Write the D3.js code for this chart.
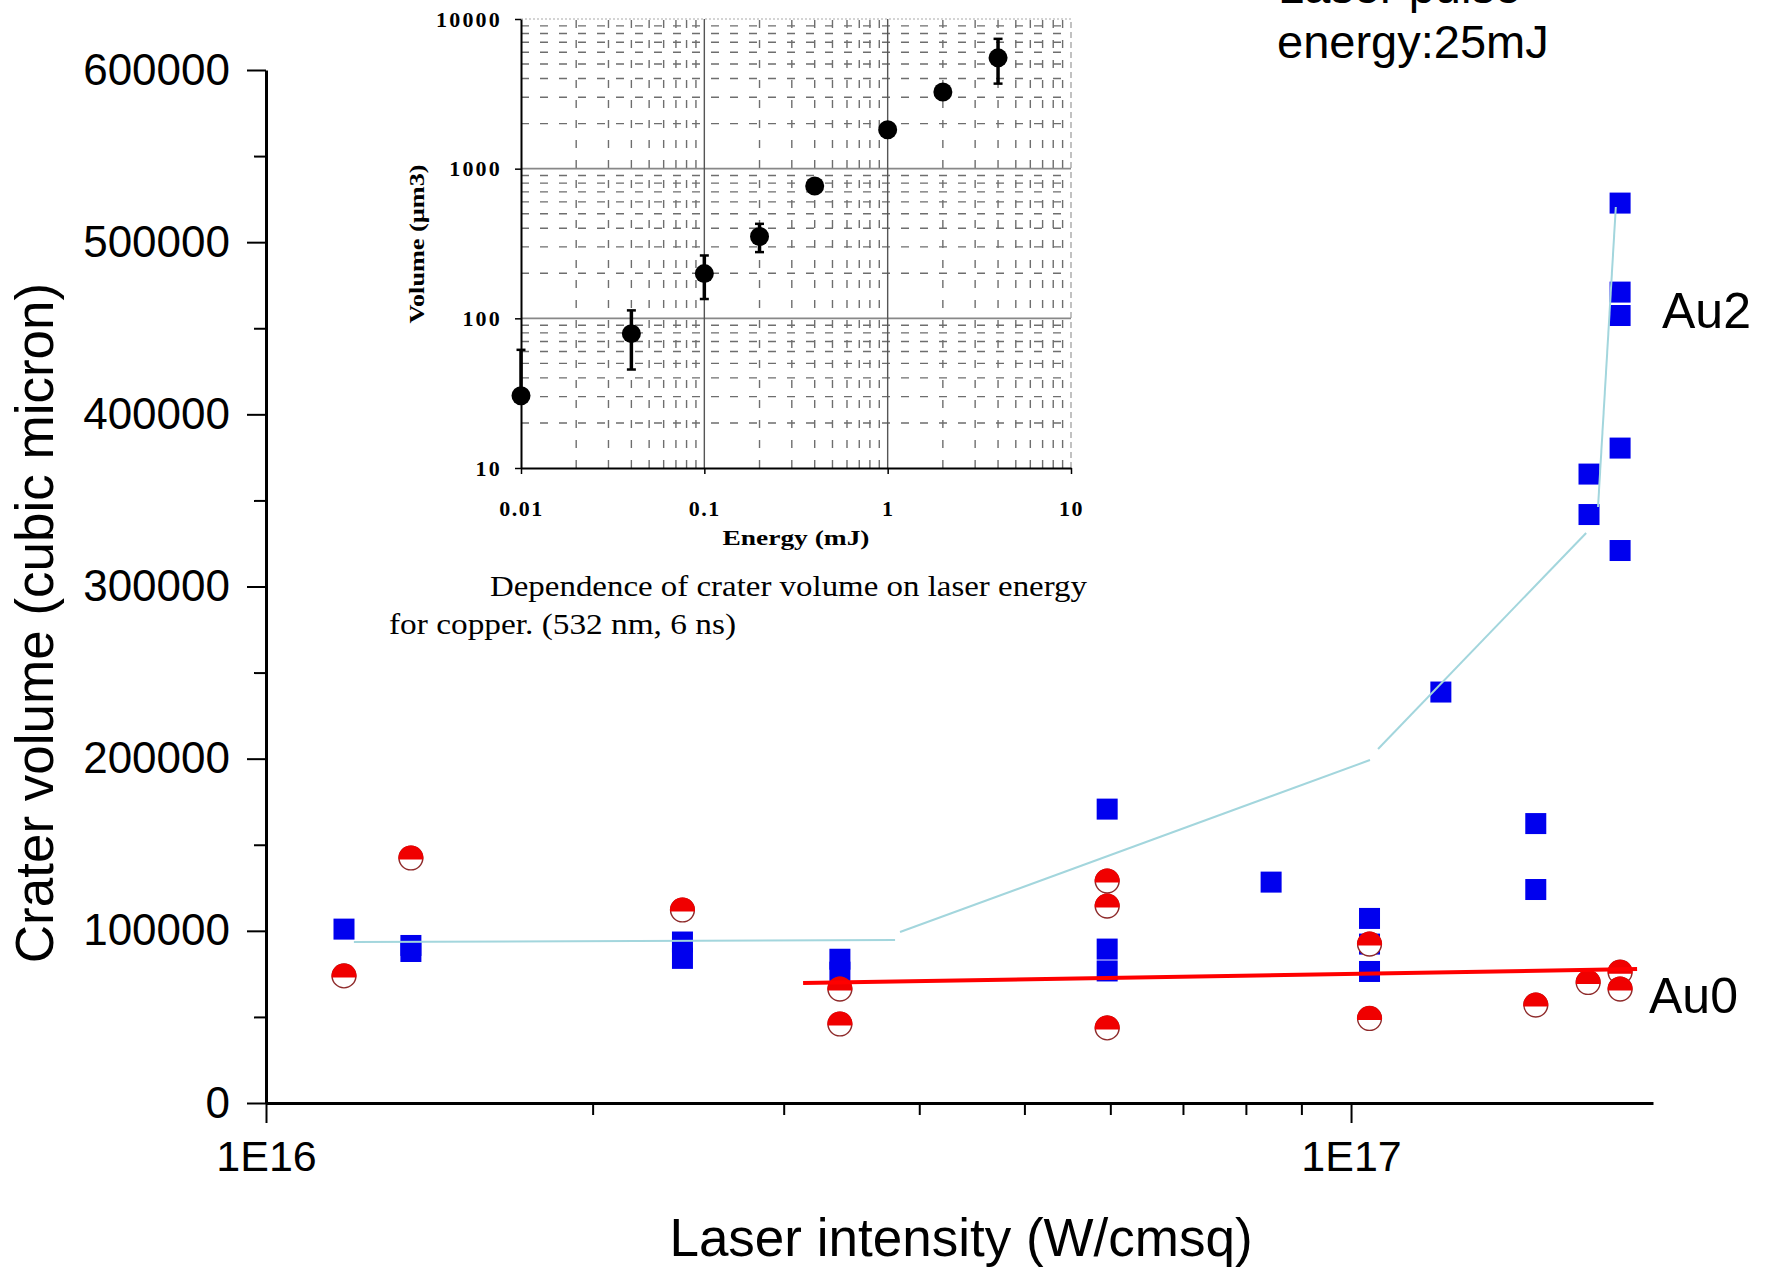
<!DOCTYPE html>
<html>
<head>
<meta charset="utf-8">
<script src="https://cdn.jsdelivr.net/npm/d3@7"></script>
<style>
  html, body { margin: 0; padding: 0; background: #fff; }
  svg { display: block; }
  .main text { font-family: "Liberation Sans", Arial, sans-serif; fill: #000; }
  .inset text { font-family: "Liberation Serif", "Times New Roman", serif; fill: #000; }
</style>
</head>
<body>
<svg id="chart" width="1768" height="1268"></svg>
<script>
// ---- main chart: crater volume vs laser intensity ----
// Au2 (blue squares)
const au2Intensity = [1.18e16, 1.36e16, 1.36e16, 2.42e16, 2.42e16, 3.38e16, 3.38e16,
  5.96e16, 5.96e16, 5.96e16, 8.44e16, 1.04e17, 1.04e17, 1.04e17, 1.21e17,
  1.48e17, 1.48e17, 1.657e17, 1.657e17, 1.77e17, 1.77e17, 1.77e17, 1.77e17, 1.77e17];
const au2Volume = [101000, 91500, 88000, 93500, 84000, 83500, 76000,
  170700, 89400, 76700, 128300, 107200, 92300, 76400, 238700,
  162300, 124000, 365300, 341800, 522700, 471000, 457400, 380400, 320900];

// Au0 (red half-filled circles)
const au0Intensity = [1.18e16, 1.36e16, 2.42e16, 3.38e16, 3.38e16, 5.96e16, 5.96e16, 5.96e16,
  1.04e17, 1.04e17, 1.48e17, 1.654e17, 1.77e17, 1.77e17];
const au0Volume = [73800, 142300, 112100, 66200, 45900, 128900, 114400, 43600,
  92300, 49100, 56900, 70000, 76000, 66200];

// trend lines
const au2Fit = [
  [[1.205e16, 93500], [3.80e16, 94700]],
  [[3.84e16, 99300], [1.041e17, 199200]],
  [[1.059e17, 205600], [1.647e17, 331100]],
  [[1.689e17, 346200], [1.754e17, 520400]]
];
const au0Fit = [[3.126e16, 69700], [1.835e17, 77800]];

const yMajor = [0, 100000, 200000, 300000, 400000, 500000, 600000];
const yMinor = [50000, 150000, 250000, 350000, 450000, 550000];
const xMajor = [1e16, 1e17];
const xMinor = [2e16, 3e16, 4e16, 5e16, 6e16, 7e16, 8e16, 9e16];
const xTickLabels = ["1E16", "1E17"];

// ---- inset: crater volume vs laser energy (copper) ----
const insetEnergy = [0.01, 0.04, 0.1, 0.2, 0.4, 1, 2, 4];
const insetVolume = [30.4, 79, 199, 352, 767, 1822, 3250, 5500];
const insetErrHi = [61.6, 113, 263, 428, null, null, null, 7370];
const insetErrLo = [30.4, 45.5, 134.6, 277, null, null, null, 3700];
const insetXTicks = [0.01, 0.1, 1, 10];
const insetXLabels = ["0.01", "0.1", "1", "10"];
const insetYTicks = [10, 100, 1000, 10000];

const svg = d3.select("#chart");
const main = svg.append("g").attr("class", "main");

const x = d3.scaleLog().domain([1e16, 1.898e17]).range([266, 1653]);
const y = d3.scaleLinear().domain([0, 600000]).range([1103, 70]);

// y axis
const yAxis = main.append("g").attr("transform", "translate(266,0)")
  .call(d3.axisLeft(y).tickValues(yMajor).tickSize(19).tickPadding(17)
    .tickSizeOuter(0).tickFormat(d3.format("d")));
yAxis.select(".domain").attr("stroke-width", 3);
yAxis.selectAll(".tick line").attr("stroke-width", 2);
yAxis.selectAll(".tick text").attr("font-size", 44).attr("font-family", null);

main.append("g").attr("transform", "translate(266,0)")
  .call(d3.axisLeft(y).tickValues(yMinor).tickSize(12).tickFormat(""))
  .call(g => g.select(".domain").remove())
  .selectAll(".tick line").attr("stroke-width", 2);

// x axis
const xAxis = main.append("g").attr("transform", "translate(0,1103)")
  .call(d3.axisBottom(x).tickValues(xMajor).tickSize(20).tickPadding(17)
    .tickSizeOuter(0).tickFormat((d, i) => xTickLabels[i]));
xAxis.select(".domain").attr("stroke-width", 3);
xAxis.selectAll(".tick line").attr("stroke-width", 2);
xAxis.selectAll(".tick text").attr("font-size", 43).attr("font-family", null);

main.append("g").attr("transform", "translate(0,1103)")
  .call(d3.axisBottom(x).tickValues(xMinor).tickSize(12).tickFormat(""))
  .call(g => g.select(".domain").remove())
  .selectAll(".tick line").attr("stroke-width", 2);

// axis titles
main.append("text")
  .attr("transform", "translate(34,623) rotate(-90)")
  .attr("text-anchor", "middle").attr("dominant-baseline", "central")
  .attr("font-size", 53)
  .text("Crater volume (cubic micron)");

main.append("text")
  .attr("x", 961).attr("y", 1256)
  .attr("text-anchor", "middle").attr("font-size", 53)
  .text("Laser intensity (W/cmsq)");

// blue squares
const sq = 21;
main.append("g").selectAll("rect")
  .data(au2Intensity)
  .join("rect")
  .attr("x", d => x(d) - sq / 2)
  .attr("y", (d, i) => y(au2Volume[i]) - sq / 2)
  .attr("width", sq).attr("height", sq)
  .attr("fill", "#0000ee");

// red half-filled circles
const r = 12.5;
const h = 1.5;
const hx = Math.sqrt(r * r - h * h);
const capPath = `M${-hx},${h}A${r},${r} 0 1 1 ${hx},${h}Z`;
const reds = main.append("g").selectAll("g")
  .data(au0Intensity)
  .join("g")
  .attr("transform", (d, i) => `translate(${x(d)},${y(au0Volume[i])})`);
reds.append("circle").attr("r", r - 0.6)
  .attr("fill", "#fff").attr("stroke", "#8e2a2a").attr("stroke-width", 1.4);
reds.append("path").attr("d", capPath).attr("fill", "#f00000");

// trend lines
const line = d3.line().x(d => x(d[0])).y(d => y(d[1]));
main.append("g").selectAll("path")
  .data(au2Fit)
  .join("path")
  .attr("d", line)
  .attr("fill", "none").attr("stroke", "#a3d6dd").attr("stroke-width", 2);

main.append("path")
  .attr("d", line(au0Fit))
  .attr("fill", "none").attr("stroke", "#ff0000").attr("stroke-width", 4);

// labels
main.append("text").attr("x", 1662).attr("y", 328).attr("font-size", 50).text("Au2");
main.append("text").attr("x", 1649).attr("y", 1013).attr("font-size", 50).text("Au0");
main.append("text").attr("x", 1278).attr("y", 3).attr("font-size", 47).text("Laser pulse");
main.append("text").attr("x", 1277).attr("y", 58).attr("font-size", 47).text("energy:25mJ");

// ---- inset ----
const inset = svg.append("g").attr("class", "inset");
const xi = d3.scaleLog().domain([0.01, 10]).range([521, 1071]);
const yi = d3.scaleLog().domain([10, 10000]).range([468, 19]);

const decadesX = [0.01, 0.1, 1];
const decadesY = [10, 100, 1000];
const minorX = decadesX.flatMap(d => d3.range(2, 10).map(k => k * d));
const minorY = decadesY.flatMap(d => d3.range(2, 10).map(k => k * d));

const grid = inset.append("g");
grid.selectAll("line.hmin")
  .data(minorY)
  .join("line").attr("class", "hmin")
  .attr("x1", xi.range()[0]).attr("x2", xi.range()[1])
  .attr("y1", d => yi(d)).attr("y2", d => yi(d))
  .attr("stroke", "#6e6e6e").attr("stroke-width", 1.4)
  .attr("stroke-dasharray", "8,11");
grid.selectAll("line.vmin")
  .data(minorX)
  .join("line").attr("class", "vmin")
  .attr("x1", d => xi(d)).attr("x2", d => xi(d))
  .attr("y1", yi.range()[0]).attr("y2", yi.range()[1])
  .attr("stroke", "#6e6e6e").attr("stroke-width", 1.4)
  .attr("stroke-dasharray", "8,12");
grid.selectAll("line.hmaj")
  .data([100, 1000])
  .join("line").attr("class", "hmaj")
  .attr("x1", xi.range()[0]).attr("x2", xi.range()[1])
  .attr("y1", d => yi(d)).attr("y2", d => yi(d))
  .attr("stroke", "#888").attr("stroke-width", 1.6);
grid.selectAll("line.vmaj")
  .data([0.1, 1])
  .join("line").attr("class", "vmaj")
  .attr("x1", d => xi(d)).attr("x2", d => xi(d))
  .attr("y1", yi.range()[0]).attr("y2", yi.range()[1])
  .attr("stroke", "#555").attr("stroke-width", 1.4);
// top and right border
grid.append("line")
  .attr("x1", xi.range()[0]).attr("x2", xi.range()[1])
  .attr("y1", yi(10000)).attr("y2", yi(10000))
  .attr("stroke", "#aaa").attr("stroke-width", 1.2).attr("stroke-dasharray", "2,2");
grid.append("line")
  .attr("x1", xi(10)).attr("x2", xi(10))
  .attr("y1", yi.range()[0]).attr("y2", yi.range()[1])
  .attr("stroke", "#999").attr("stroke-width", 1.2).attr("stroke-dasharray", "6,4");

const yiAxis = inset.append("g").attr("transform", `translate(${xi(0.01)},0)`)
  .call(d3.axisLeft(yi).tickValues(insetYTicks).tickSize(6).tickPadding(13)
    .tickSizeOuter(0).tickFormat(d3.format("d")));
yiAxis.select(".domain").attr("stroke-width", 2);
yiAxis.selectAll(".tick line").attr("stroke-width", 1.5);
yiAxis.selectAll(".tick text").attr("font-size", 22).attr("font-weight", "bold")
  .attr("font-family", null).attr("letter-spacing", 2.2);

const xiAxis = inset.append("g").attr("transform", `translate(0,${yi(10)})`)
  .call(d3.axisBottom(xi).tickValues(insetXTicks).tickSize(6).tickPadding(26)
    .tickSizeOuter(0).tickFormat((d, i) => insetXLabels[i]));
xiAxis.select(".domain").attr("stroke-width", 2);
xiAxis.selectAll(".tick line").attr("stroke-width", 1.5);
xiAxis.selectAll(".tick text").attr("font-size", 22).attr("font-weight", "bold")
  .attr("font-family", null).attr("letter-spacing", 1.5);

inset.append("text")
  .attr("x", 796).attr("y", 545)
  .attr("text-anchor", "middle").attr("font-size", 22).attr("font-weight", "bold")
  .attr("textLength", 147).attr("lengthAdjust", "spacingAndGlyphs")
  .text("Energy (mJ)");

inset.append("text")
  .attr("transform", "translate(424,244) rotate(-90)")
  .attr("text-anchor", "middle").attr("font-size", 21).attr("font-weight", "bold")
  .attr("textLength", 159).attr("lengthAdjust", "spacingAndGlyphs")
  .text("Volume (µm3)");

// error bars
const errIdx = d3.range(insetEnergy.length).filter(i => insetErrHi[i] != null);
const errs = inset.append("g").attr("stroke", "#000").attr("stroke-width", 3.5);
errs.selectAll("line.bar")
  .data(errIdx)
  .join("line").attr("class", "bar")
  .attr("x1", i => xi(insetEnergy[i])).attr("x2", i => xi(insetEnergy[i]))
  .attr("y1", i => yi(insetErrHi[i])).attr("y2", i => yi(insetErrLo[i]));
errs.selectAll("line.capHi")
  .data(errIdx)
  .join("line").attr("class", "capHi")
  .attr("x1", i => xi(insetEnergy[i]) - 4.5).attr("x2", i => xi(insetEnergy[i]) + 4.5)
  .attr("y1", i => yi(insetErrHi[i])).attr("y2", i => yi(insetErrHi[i]))
  .attr("stroke-width", 2.5);
errs.selectAll("line.capLo")
  .data(errIdx.filter(i => insetErrLo[i] < insetVolume[i]))
  .join("line").attr("class", "capLo")
  .attr("x1", i => xi(insetEnergy[i]) - 4.5).attr("x2", i => xi(insetEnergy[i]) + 4.5)
  .attr("y1", i => yi(insetErrLo[i])).attr("y2", i => yi(insetErrLo[i]))
  .attr("stroke-width", 2.5);

inset.append("g").selectAll("circle")
  .data(insetEnergy)
  .join("circle")
  .attr("cx", d => xi(d))
  .attr("cy", (d, i) => yi(insetVolume[i]))
  .attr("r", 9.5)
  .attr("fill", "#000");

// caption
inset.append("text").attr("x", 490).attr("y", 596).attr("font-size", 29)
  .attr("textLength", 597).attr("lengthAdjust", "spacingAndGlyphs")
  .text("Dependence of crater volume on laser energy");
inset.append("text").attr("x", 389).attr("y", 634).attr("font-size", 29)
  .attr("textLength", 347).attr("lengthAdjust", "spacingAndGlyphs")
  .text("for copper. (532 nm, 6 ns)");
</script>
</body>
</html>
